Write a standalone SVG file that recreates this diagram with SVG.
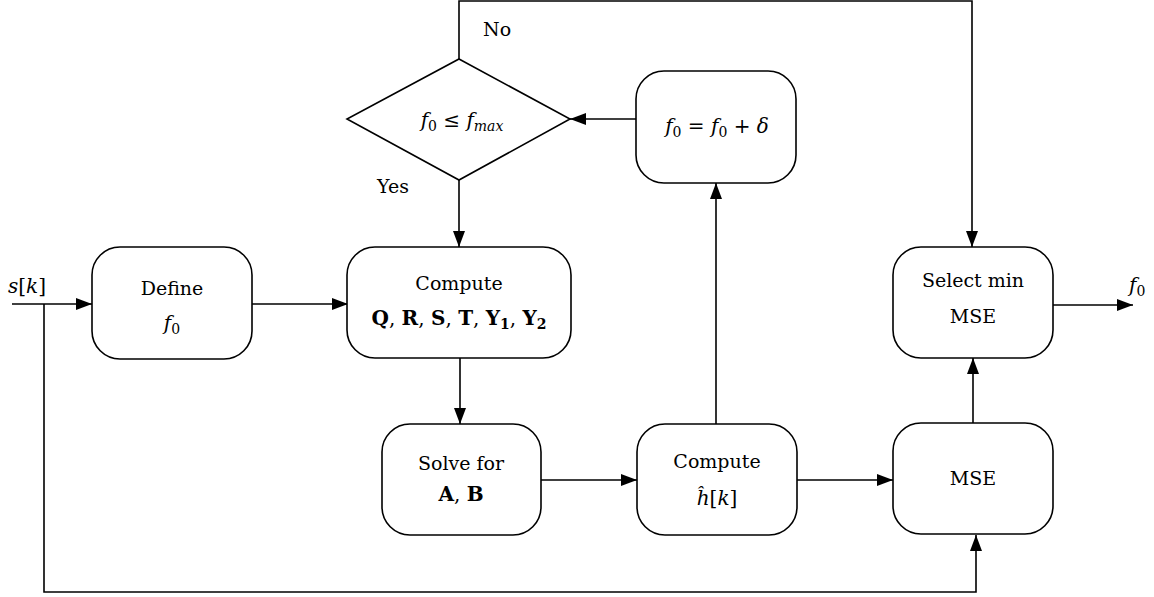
<svg xmlns="http://www.w3.org/2000/svg" width="1154" height="597" viewBox="0 0 1154 597">
<style>
.box{fill:#fff;stroke:#000;stroke-width:1.6}
.ln{fill:none;stroke:#000;stroke-width:1.6}
text{font-family:"DejaVu Serif","Liberation Serif",serif;font-size:19px;fill:#000}
.c{text-anchor:middle}
.i{font-style:italic}
.b{font-weight:bold}
.m{font-size:20px}
.s{font-size:14px}
</style>
<defs>
<marker id="ar" viewBox="0 0 16 12" refX="16" refY="6" markerWidth="16" markerHeight="12" markerUnits="userSpaceOnUse" orient="auto">
<path d="M0,0 L16,6 L0,12 z" fill="#000"/>
</marker>
</defs>
<rect width="1154" height="597" fill="#fff"/>
<g id="connectors">
<path class="ln" d="M12,304 H92" marker-end="url(#ar)"/>
<path class="ln" d="M44,304 V592 H976 V535" marker-end="url(#ar)"/>
<path class="ln" d="M252,304 H348" marker-end="url(#ar)"/>
<path class="ln" d="M459,180 V247" marker-end="url(#ar)"/>
<path class="ln" d="M460,358 V424" marker-end="url(#ar)"/>
<path class="ln" d="M541,480 H637" marker-end="url(#ar)"/>
<path class="ln" d="M797,480 H893" marker-end="url(#ar)"/>
<path class="ln" d="M716,424 V183" marker-end="url(#ar)"/>
<path class="ln" d="M636,119 H570" marker-end="url(#ar)"/>
<path class="ln" d="M459,59 V1 H972 V247" marker-end="url(#ar)"/>
<path class="ln" d="M973,423 V358" marker-end="url(#ar)"/>
<path class="ln" d="M1053,305 H1133" marker-end="url(#ar)"/>
</g>
<g id="input-label">
<text class="m" x="8" y="293"><tspan class="i">s</tspan>[<tspan class="i">k</tspan>]</text>
</g>
<g id="output-label">
<text class="m" x="1129" y="292"><tspan class="i">f</tspan><tspan class="s" dy="4">0</tspan></text>
</g>
<g id="define">
<rect class="box" x="92" y="247" width="160" height="112" rx="28"/>
<text class="c" x="172" y="295">Define</text>
<text class="c m" x="172" y="330"><tspan class="i">f</tspan><tspan class="s" dy="4">0</tspan></text>
</g>
<g id="compute-qrst">
<rect class="box" x="347" y="247" width="224" height="111" rx="28"/>
<text class="c" x="459" y="290">Compute</text>
<text class="c m" x="459" y="325"><tspan class="b">Q</tspan>, <tspan class="b">R</tspan>, <tspan class="b">S</tspan>, <tspan class="b">T</tspan>, <tspan class="b">Y</tspan><tspan class="b s" dy="4">1</tspan><tspan dy="-4">, </tspan><tspan class="b">Y</tspan><tspan class="b s" dy="4">2</tspan></text>
</g>
<g id="decision">
<polygon class="box" points="459,59 570,119 459,180 347,119"/>
<text class="c m" x="462" y="127"><tspan class="i">f</tspan><tspan class="s" dy="4">0</tspan><tspan dy="-4"> ≤ </tspan><tspan class="i">f</tspan><tspan class="i s" dy="4">max</tspan></text>
</g>
<g id="labels">
<text x="483" y="36">No</text>
<text x="377" y="193">Yes</text>
</g>
<g id="increment">
<rect class="box" x="636" y="71" width="160" height="112" rx="28"/>
<text class="c m" x="717" y="133"><tspan class="i">f</tspan><tspan class="s" dy="4">0</tspan><tspan dy="-4"> = </tspan><tspan class="i">f</tspan><tspan class="s" dy="4">0</tspan><tspan dy="-4"> + </tspan><tspan class="i">δ</tspan></text>
</g>
<g id="solve">
<rect class="box" x="382" y="424" width="159" height="111" rx="28"/>
<text class="c" x="461" y="470">Solve for</text>
<text class="c m" x="461" y="501"><tspan class="b">A</tspan>, <tspan class="b">B</tspan></text>
</g>
<g id="compute-h">
<rect class="box" x="637" y="424" width="160" height="111" rx="28"/>
<text class="c" x="717" y="468">Compute</text>
<text class="c m" x="717" y="505"><tspan class="i">ĥ</tspan>[<tspan class="i">k</tspan>]</text>
</g>
<g id="mse">
<rect class="box" x="893" y="423" width="160" height="111" rx="28"/>
<text class="c" x="973" y="485">MSE</text>
</g>
<g id="select">
<rect class="box" x="893" y="247" width="160" height="111" rx="28"/>
<text class="c" x="973" y="287">Select min</text>
<text class="c" x="973" y="323">MSE</text>
</g>
</svg>
